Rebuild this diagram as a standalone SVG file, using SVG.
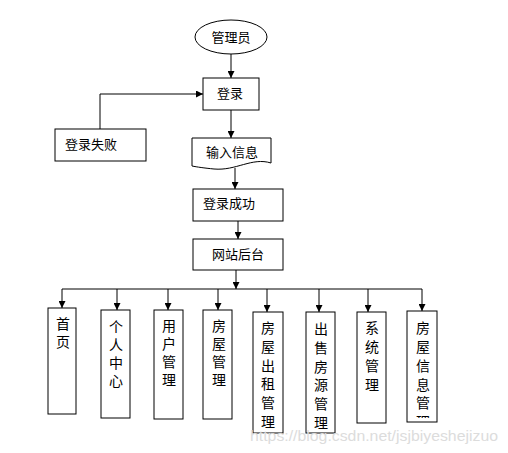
<svg xmlns="http://www.w3.org/2000/svg" width="508" height="453" viewBox="0 0 508 453">
<style>
.box{fill:#fff;stroke:#000;stroke-width:1}
.ln{fill:none;stroke:#000;stroke-width:1}
.t{font-family:"Liberation Sans","Noto Sans CJK SC",sans-serif;font-size:13px;fill:#000}
.v{font-family:"Liberation Sans","Noto Sans CJK SC",sans-serif;font-size:14px;fill:#000;text-anchor:middle}
.wm{font-family:"Liberation Sans",Arial,sans-serif;font-size:15px;fill:#dcdcdc}
</style>
<defs>
<marker id="ah" viewBox="0 0 10 10" refX="10" refY="5" markerWidth="7" markerHeight="7" markerUnits="userSpaceOnUse" orient="auto">
<path d="M0,0 L10,5 L0,10 Z" fill="#000"/>
</marker>
<clipPath id="c8"><rect x="407" y="311" width="30" height="107"/></clipPath>
</defs>
<rect width="508" height="453" fill="#fff"/>
<g id="connectors">
<path class="ln" d="M231,54 V78" marker-end="url(#ah)"/>
<path class="ln" d="M100,129 V94 H203" marker-end="url(#ah)"/>
<path class="ln" d="M231,110 V138" marker-end="url(#ah)"/>
<path class="ln" d="M235,168 V189" marker-end="url(#ah)"/>
<path class="ln" d="M238,221 V239" marker-end="url(#ah)"/>
<path class="ln" d="M236,270 V289" marker-end="url(#ah)"/>
<path class="ln" d="M62,289 H422"/>
<path class="ln" d="M62,289 V308" marker-end="url(#ah)"/>
<path class="ln" d="M117,289 V310" marker-end="url(#ah)"/>
<path class="ln" d="M168,289 V310" marker-end="url(#ah)"/>
<path class="ln" d="M218,289 V310" marker-end="url(#ah)"/>
<path class="ln" d="M267,289 V312" marker-end="url(#ah)"/>
<path class="ln" d="M319,289 V312" marker-end="url(#ah)"/>
<path class="ln" d="M368,289 V312" marker-end="url(#ah)"/>
<path class="ln" d="M422,289 V311" marker-end="url(#ah)"/>
</g>
<g id="n-admin">
<ellipse class="box" cx="231" cy="37" rx="36" ry="17"/>
<text class="t" x="231" y="42" text-anchor="middle">管理员</text>
</g>
<g id="n-login">
<rect class="box" x="203" y="78" width="56" height="32"/>
<text class="t" x="230" y="98" text-anchor="middle">登录</text>
</g>
<g id="n-fail">
<rect class="box" x="55" y="129" width="91" height="32"/>
<text class="t" x="65" y="149">登录失败</text>
</g>
<g id="n-input">
<path class="box" d="M192,138 H271 V163 C252,157 236,171 214,169 C204,168 197,167 192,166 Z"/>
<text class="t" x="206" y="157">输入信息</text>
</g>
<g id="n-success">
<rect class="box" x="193" y="189" width="90" height="32"/>
<text class="t" x="203" y="208">登录成功</text>
</g>
<g id="n-backend">
<rect class="box" x="193" y="239" width="90" height="31"/>
<text class="t" x="212" y="259">网站后台</text>
</g>
<g id="n-home">
<rect class="box" x="48" y="308" width="28" height="106"/>
<text class="v" x="63"><tspan x="63" y="329">首</tspan><tspan x="63" y="347">页</tspan></text>
</g>
<g id="n-personal">
<rect class="box" x="101" y="310" width="29" height="108"/>
<text class="v"><tspan x="116" y="332">个</tspan><tspan x="116" y="350">人</tspan><tspan x="116" y="368">中</tspan><tspan x="116" y="386">心</tspan></text>
</g>
<g id="n-user">
<rect class="box" x="154" y="310" width="29" height="109"/>
<text class="v"><tspan x="169" y="331">用</tspan><tspan x="169" y="349">户</tspan><tspan x="169" y="367">管</tspan><tspan x="169" y="385">理</tspan></text>
</g>
<g id="n-house">
<rect class="box" x="203" y="310" width="29" height="109"/>
<text class="v"><tspan x="219" y="331">房</tspan><tspan x="219" y="349">屋</tspan><tspan x="219" y="367">管</tspan><tspan x="219" y="385">理</tspan></text>
</g>
<g id="n-rent">
<rect class="box" x="253" y="312" width="30" height="121"/>
<text class="v"><tspan x="268" y="333">房</tspan><tspan x="268" y="352">屋</tspan><tspan x="268" y="371">出</tspan><tspan x="268" y="389">租</tspan><tspan x="268" y="408">管</tspan><tspan x="268" y="427">理</tspan></text>
</g>
<g id="n-sale">
<rect class="box" x="306" y="312" width="29" height="121"/>
<text class="v"><tspan x="321" y="334">出</tspan><tspan x="321" y="353">售</tspan><tspan x="321" y="372">房</tspan><tspan x="321" y="390">源</tspan><tspan x="321" y="409">管</tspan><tspan x="321" y="428">理</tspan></text>
</g>
<g id="n-system">
<rect class="box" x="357" y="312" width="29" height="111"/>
<text class="v"><tspan x="372" y="333">系</tspan><tspan x="372" y="352">统</tspan><tspan x="372" y="371">管</tspan><tspan x="372" y="390">理</tspan></text>
</g>
<g id="n-info">
<rect class="box" x="407" y="311" width="30" height="111"/>
<text class="v" clip-path="url(#c8)"><tspan x="423" y="333">房</tspan><tspan x="423" y="352">屋</tspan><tspan x="423" y="371">信</tspan><tspan x="423" y="390">息</tspan><tspan x="423" y="408">管</tspan><tspan x="423" y="427">理</tspan></text>
</g>
<text class="wm" x="250" y="441" textLength="248" lengthAdjust="spacingAndGlyphs">https://blog.csdn.net/jsjbiyeshejizuo</text>
</svg>
